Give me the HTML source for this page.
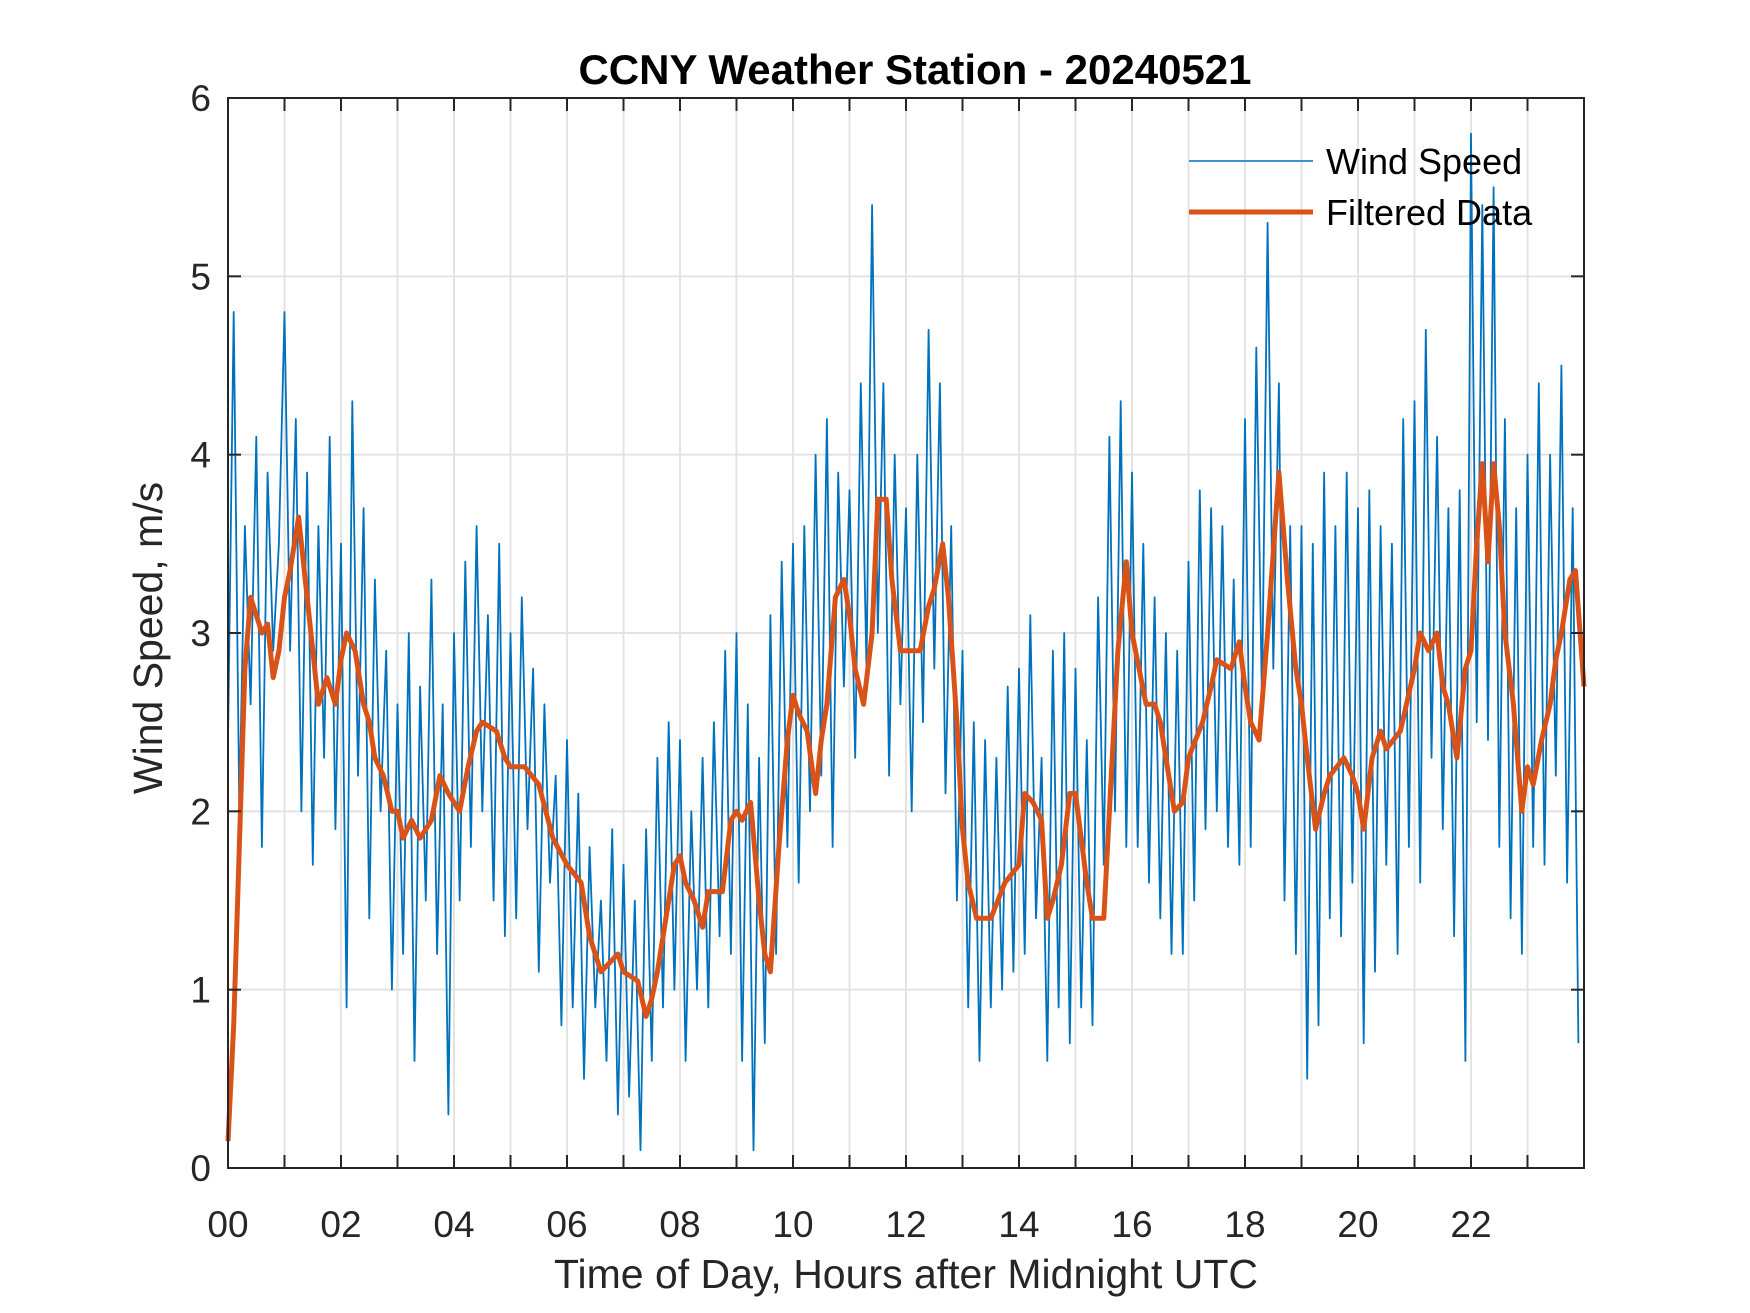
<!DOCTYPE html>
<html><head><meta charset="utf-8"><style>
html,body{margin:0;padding:0;background:#fff;}
svg{display:block;font-family:"Liberation Sans",Arial,sans-serif;}
</style></head><body>
<svg id="chart" width="1750" height="1313" viewBox="0 0 1750 1313">
<rect x="0" y="0" width="1750" height="1313" fill="#fff"/>
<g id="grid"></g>
<g id="plot"></g>
<g id="axes"></g>
<text x="915" y="84" text-anchor="middle" font-size="42" font-weight="bold" fill="#000">CCNY Weather Station - 20240521</text>
<text x="906" y="1288" text-anchor="middle" font-size="41" fill="#262626">Time of Day, Hours after Midnight UTC</text>
<text transform="translate(162,638) rotate(-90)" text-anchor="middle" font-size="41" fill="#262626">Wind Speed, m/s</text>
<g>
<line x1="1189" y1="161" x2="1313" y2="161" stroke="#0072BD" stroke-width="1.5"/>
<text x="1326" y="174" font-size="36" fill="#000">Wind Speed</text>
<line x1="1189" y1="212" x2="1313" y2="212" stroke="#D95319" stroke-width="5"/>
<text x="1326" y="225" font-size="36" fill="#000">Filtered Data</text>
</g>
</svg>
<script>
const xTicks = [0,2,4,6,8,10,12,14,16,18,20,22];
const xTickLabels = ["00","02","04","06","08","10","12","14","16","18","20","22"];
const yTicks = [0,1,2,3,4,5,6];
const windStepHours = 0.1;
const windSpeed = [
2.4,4.8,2.0,3.6,2.6,4.1,1.8,3.9,2.9,3.5,
4.8,2.9,4.2,2.0,3.9,1.7,3.6,2.3,4.1,1.9,
3.5,0.9,4.3,2.2,3.7,1.4,3.3,2.0,2.9,1.0,
2.6,1.2,3.0,0.6,2.7,1.5,3.3,1.2,2.6,0.3,
3.0,1.5,3.4,1.8,3.6,2.0,3.1,1.5,3.5,1.3,
3.0,1.4,3.2,1.9,2.8,1.1,2.6,1.6,2.2,0.8,
2.4,0.9,2.1,0.5,1.8,0.9,1.5,0.6,1.9,0.3,
1.7,0.4,1.5,0.1,1.9,0.6,2.3,0.9,2.5,1.0,
2.4,0.6,2.0,1.0,2.3,0.9,2.5,1.3,2.9,1.2,
3.0,0.6,2.6,0.1,2.3,0.7,3.1,1.2,3.4,1.8,
3.5,1.6,3.6,2.0,4.0,2.2,4.2,1.8,3.9,2.7,
3.8,2.3,4.4,2.8,5.4,3.0,4.4,2.2,4.0,2.6,
3.7,2.0,4.0,2.5,4.7,2.8,4.4,2.1,3.6,1.5,
2.9,0.9,2.5,0.6,2.4,0.9,2.3,1.0,2.7,1.1,
2.8,1.2,3.1,1.4,2.3,0.6,2.9,0.9,3.0,0.7,
2.8,0.9,2.4,0.8,3.2,1.7,4.1,2.0,4.3,1.8,
3.9,1.8,3.5,1.6,3.2,1.4,3.0,1.2,2.9,1.2,
3.4,1.5,3.8,1.9,3.7,2.0,3.6,1.8,3.3,1.7,
4.2,1.8,4.6,2.6,5.3,2.8,4.4,1.5,3.6,1.2,
3.6,0.5,3.5,0.8,3.9,1.4,3.6,1.3,3.9,1.6,
3.7,0.7,3.8,1.1,3.6,1.7,3.5,1.2,4.2,1.8,
4.3,1.6,4.7,2.3,4.1,1.9,3.7,1.3,3.8,0.6,
5.8,2.5,5.4,2.4,5.5,1.8,4.2,1.4,3.7,1.2,
4.0,1.8,4.4,1.7,4.0,2.2,4.5,1.6,3.7,0.7];
const filteredHours = [0,0.1,0.2,0.3,0.4,0.5,0.6,0.7,0.8,0.9,1,1.1,1.25,1.4,1.5,1.6,1.75,1.9,2,2.1,2.25,2.4,2.5,2.6,2.75,2.9,3,3.1,3.25,3.4,3.5,3.6,3.75,3.9,4,4.1,4.25,4.4,4.5,4.75,4.9,5,5.25,5.5,5.75,6,6.25,6.4,6.6,6.75,6.9,7,7.25,7.4,7.5,7.6,7.75,7.9,8,8.1,8.25,8.4,8.5,8.75,8.9,9,9.1,9.25,9.4,9.5,9.6,9.75,9.9,10,10.1,10.25,10.4,10.5,10.6,10.75,10.9,11,11.1,11.25,11.4,11.5,11.65,11.75,11.9,12,12.25,12.4,12.5,12.65,12.75,12.9,13,13.1,13.25,13.5,13.75,14,14.1,14.25,14.4,14.5,14.6,14.75,14.9,15,15.2,15.3,15.5,15.6,15.75,15.9,16,16.25,16.4,16.5,16.6,16.75,16.9,17,17.25,17.4,17.5,17.75,17.9,18,18.1,18.25,18.4,18.6,18.75,18.9,19,19.1,19.25,19.4,19.5,19.75,19.9,20,20.1,20.25,20.4,20.5,20.75,21,21.1,21.25,21.4,21.5,21.6,21.75,21.9,22,22.1,22.2,22.3,22.4,22.5,22.6,22.75,22.9,23,23.1,23.25,23.4,23.5,23.6,23.75,23.85,24];
const filteredValues = [0.15,0.8,1.8,2.8,3.2,3.1,3.0,3.05,2.75,2.9,3.2,3.35,3.65,3.2,2.9,2.6,2.75,2.6,2.85,3.0,2.9,2.6,2.5,2.3,2.2,2.0,2.0,1.85,1.95,1.85,1.9,1.95,2.2,2.1,2.05,2.0,2.25,2.45,2.5,2.45,2.3,2.25,2.25,2.15,1.85,1.7,1.6,1.3,1.1,1.15,1.2,1.1,1.05,0.85,0.95,1.1,1.4,1.7,1.75,1.6,1.5,1.35,1.55,1.55,1.95,2.0,1.95,2.05,1.5,1.2,1.1,1.8,2.4,2.65,2.55,2.45,2.1,2.4,2.6,3.2,3.3,3.1,2.8,2.6,3.0,3.75,3.75,3.3,2.9,2.9,2.9,3.15,3.25,3.5,3.2,2.5,1.9,1.6,1.4,1.4,1.6,1.7,2.1,2.05,1.95,1.4,1.5,1.7,2.1,2.1,1.6,1.4,1.4,2.0,2.9,3.4,3.0,2.6,2.6,2.5,2.3,2.0,2.05,2.3,2.5,2.7,2.85,2.8,2.95,2.7,2.5,2.4,3.0,3.9,3.3,2.8,2.6,2.3,1.9,2.1,2.2,2.3,2.2,2.1,1.9,2.3,2.45,2.35,2.45,2.8,3.0,2.9,3.0,2.7,2.6,2.3,2.8,2.9,3.5,3.95,3.4,3.95,3.6,3.0,2.6,2.0,2.25,2.15,2.4,2.6,2.85,3.0,3.3,3.35,2.7];

const NS='http://www.w3.org/2000/svg';
const L=228,R=1584,T=98,B=1168;
const xs=h=>L+(h/24)*(R-L);
const ys=v=>B-(v/6)*(B-T);
function mk(tag,attrs,parent){const e=document.createElementNS(NS,tag);for(const k in attrs)e.setAttribute(k,attrs[k]);parent.appendChild(e);return e;}
const grid=document.getElementById('grid'),plot=document.getElementById('plot'),axes=document.getElementById('axes');
for(let h=1;h<24;h++){
  const g=mk('line',{x1:xs(h),x2:xs(h),y1:T,y2:B,stroke:'#e3e3e3','stroke-width':2},grid);
  
  
}
yTicks.forEach(v=>{
  const g=mk('line',{x1:L,x2:R,y1:ys(v),y2:ys(v),stroke:'#e3e3e3','stroke-width':2},grid);
  
  
});
let d='';
windSpeed.forEach((v,i)=>{d+=(i?'L':'M')+xs(i*windStepHours).toFixed(1)+' '+ys(v).toFixed(1);});
const ws=mk('path',{d:d,fill:'none',stroke:'#0072BD','stroke-width':1.8,'stroke-linejoin':'round'},plot);


let d2='';
filteredValues.forEach((v,i)=>{d2+=(i?'L':'M')+xs(filteredHours[i]).toFixed(1)+' '+ys(v).toFixed(1);});
const fl=mk('path',{d:d2,fill:'none',stroke:'#D95319','stroke-width':5,'stroke-linejoin':'round'},plot);


for(let h=1;h<24;h++){
  const t1=mk('line',{x1:xs(h),x2:xs(h),y1:B,y2:B-13,stroke:'#262626','stroke-width':2},axes);
  
  
  const t2=mk('line',{x1:xs(h),x2:xs(h),y1:T,y2:T+13,stroke:'#262626','stroke-width':2},axes);
  
  
}
xTicks.forEach((h,i)=>{
  const t=mk('text',{x:xs(h),y:1237,'text-anchor':'middle','font-size':37,fill:'#262626'},axes);
  t.textContent=xTickLabels[i];
  
  
});
yTicks.forEach(v=>{
  const t1=mk('line',{x1:L,x2:L+13,y1:ys(v),y2:ys(v),stroke:'#262626','stroke-width':2},axes);
  
  
  const t2=mk('line',{x1:R,x2:R-13,y1:ys(v),y2:ys(v),stroke:'#262626','stroke-width':2},axes);
  
  
  const t=mk('text',{x:211,y:ys(v)+13,'text-anchor':'end','font-size':37,fill:'#262626'},axes);
  t.textContent=String(v);
  
  
});
const box=mk('rect',{x:L,y:T,width:R-L,height:B-T,fill:'none',stroke:'#262626','stroke-width':2},axes);


</script>
</body></html>
